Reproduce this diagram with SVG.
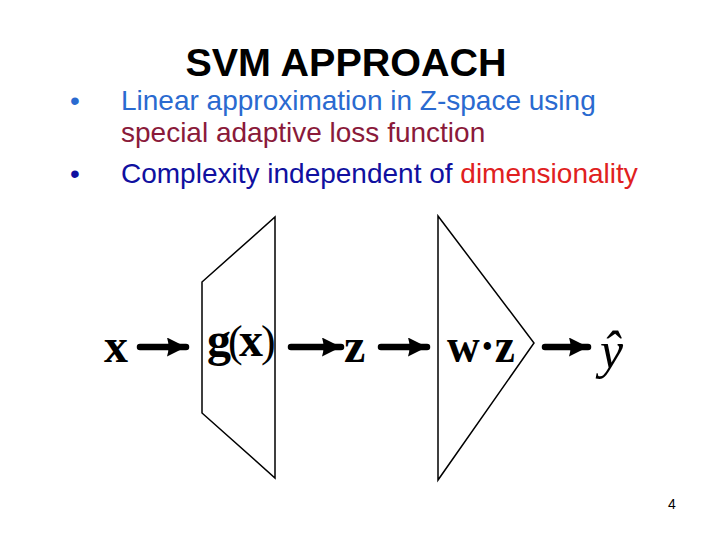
<svg xmlns="http://www.w3.org/2000/svg" width="720" height="540" viewBox="0 0 720 540">
<style>
.t{font-family:"Liberation Sans",Arial,sans-serif}
.m{font-family:"Liberation Serif","Times New Roman",serif;font-weight:bold;font-size:48px;fill:#000}
.p{font-weight:normal}
.shape{fill:none;stroke:#000;stroke-width:1.5}
.arr{stroke:#000;stroke-width:6.5;stroke-linecap:round;fill:none}
</style>
<defs>
<marker id="ah" markerUnits="userSpaceOnUse" markerWidth="20" markerHeight="20" refX="19" refY="9.5" orient="auto">
<path d="M0,0 L19,9.5 L0,19 Q3,9.5 0,0 Z" fill="#000"/>
</marker>
</defs>
<rect width="720" height="540" fill="#fff"/>
<g id="title"><text class="t" x="346" y="76" font-size="39.5" font-weight="bold" text-anchor="middle" fill="#000">SVM APPROACH</text></g>
<g id="bullets" class="t" font-size="28">
<text x="70" y="110" fill="#2a6ad0">•</text>
<text x="121" y="110" fill="#2a6ad0">Linear approximation in Z-space using</text>
<text x="121" y="142" fill="#8a1a3a">special adaptive loss function</text>
<text x="70" y="183" fill="#1010a0">•</text>
<text x="121" y="183"><tspan fill="#1010a0">Complexity independent of </tspan><tspan fill="#e02020">dimensionality</tspan></text>
</g>
<g id="connectors">
<line class="arr" x1="140" y1="347" x2="186" y2="347" marker-end="url(#ah)"/>
<line class="arr" x1="291" y1="347" x2="341" y2="347" marker-end="url(#ah)"/>
<line class="arr" x1="381" y1="347" x2="427" y2="347" marker-end="url(#ah)"/>
<line class="arr" x1="545" y1="347" x2="588" y2="347" marker-end="url(#ah)"/>
</g>
<g id="node-x"><text class="m" x="104" y="362">x</text></g>
<g id="node-g">
<polygon class="shape" points="202,282 275,217 275,478 202,413"/>
<text class="m" y="356"><tspan x="207">g</tspan><tspan class="p" x="228" font-size="44">(</tspan><tspan x="239">x</tspan><tspan class="p" x="261" font-size="44">)</tspan></text>
</g>
<g id="node-z"><text class="m" x="344" y="362">z</text></g>
<g id="node-w">
<polygon class="shape" points="438,216 534,343 438,480"/>
<text class="m" x="447" y="362" textLength="68" lengthAdjust="spacingAndGlyphs">w·z</text>
</g>
<g id="node-y"><text x="600" y="368" font-family="'Liberation Serif','Times New Roman',serif" font-style="italic" font-size="52" fill="#000">ŷ</text></g>
<g id="page"><text class="t" x="668" y="509" font-size="14" fill="#000">4</text></g>
</svg>
